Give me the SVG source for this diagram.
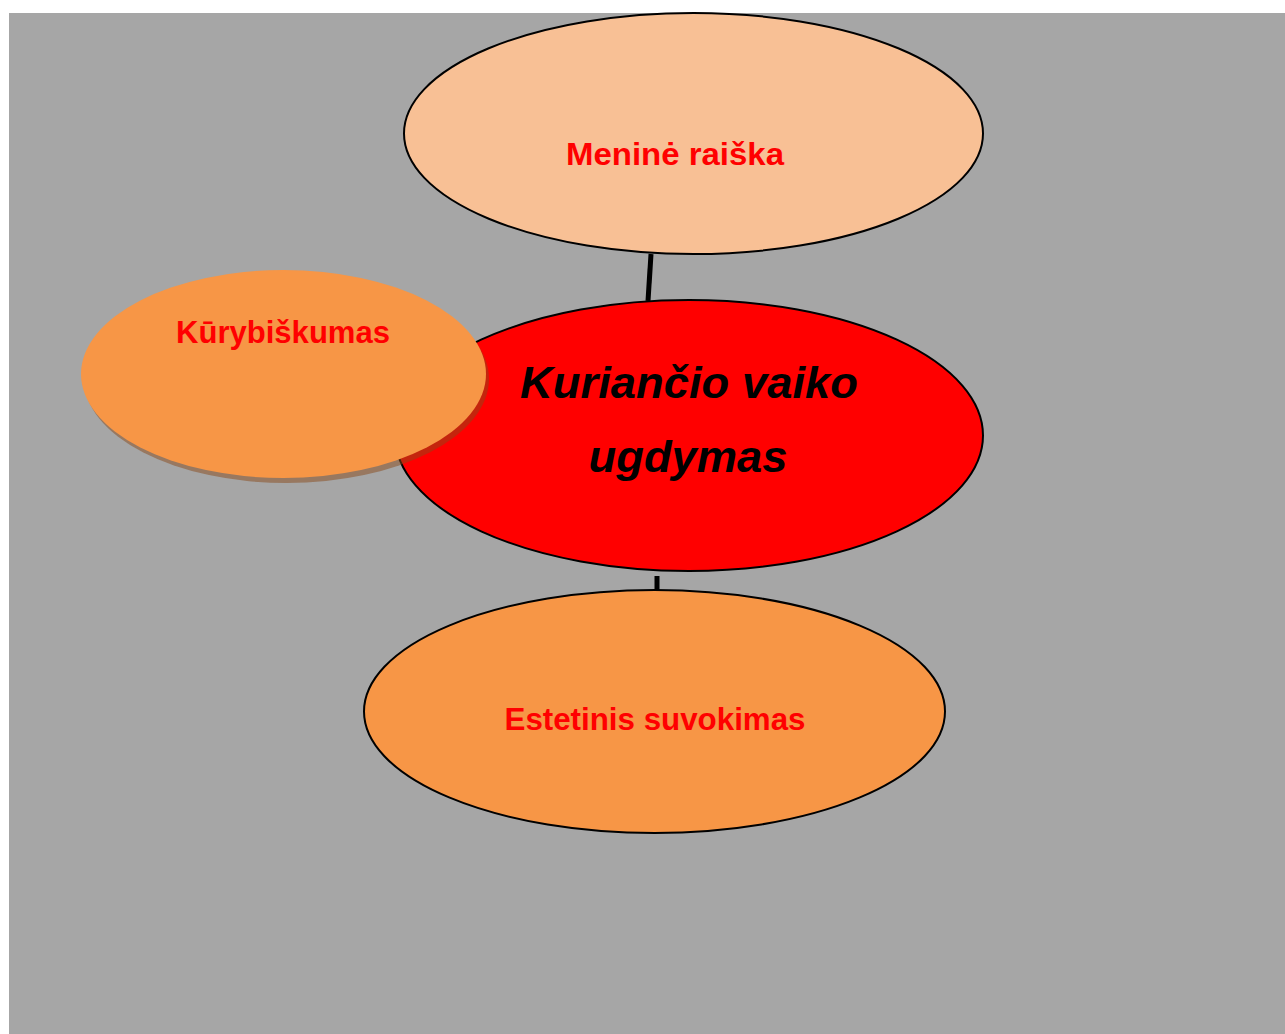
<svg xmlns="http://www.w3.org/2000/svg" width="1285" height="1034" viewBox="0 0 1285 1034">
<style>
.lbl{font-family:"Liberation Sans",Arial,sans-serif;font-weight:bold;fill:#ff0000;font-size:32px;text-anchor:middle}
.main{font-family:"Liberation Sans",Arial,sans-serif;font-weight:bold;font-style:italic;fill:#000;font-size:44px;text-anchor:middle}
.conn{stroke:#000;stroke-width:5;fill:none}
</style>
<rect x="0" y="0" width="1285" height="1034" fill="#ffffff"/>
<rect x="9" y="13" width="1276" height="1021" fill="#a6a6a6"/>
<g id="connectors">
<line class="conn" x1="651" y1="254" x2="648" y2="301"/>
<line class="conn" x1="657" y1="576" x2="657" y2="591"/>
</g>
<g id="menine">
<ellipse cx="693.5" cy="133.5" rx="289.5" ry="120.5" fill="#f8c095" stroke="#000" stroke-width="2"/>
<text class="lbl" x="675" y="165" textLength="218" lengthAdjust="spacingAndGlyphs">Meninė raiška</text>
</g>
<g id="center">
<ellipse cx="689" cy="435.5" rx="294" ry="135.5" fill="#ff0000" stroke="#000" stroke-width="2"/>
<text class="main" x="689" y="398" textLength="338" lengthAdjust="spacingAndGlyphs">Kuriančio vaiko</text>
<text class="main" x="688" y="472" textLength="199" lengthAdjust="spacingAndGlyphs">ugdymas</text>
</g>
<g id="kurybiskumas">
<ellipse cx="286.5" cy="379" rx="202.5" ry="104" fill="#8a4a1a" opacity="0.5"/>
<ellipse cx="283.5" cy="374" rx="202.5" ry="104" fill="#f79646"/>
<text class="lbl" x="283" y="343" textLength="214" lengthAdjust="spacingAndGlyphs">Kūrybiškumas</text>
</g>
<g id="estetinis">
<ellipse cx="654.5" cy="711.5" rx="290.5" ry="121.5" fill="#f79646" stroke="#000" stroke-width="2"/>
<text class="lbl" x="655" y="730" textLength="301" lengthAdjust="spacingAndGlyphs">Estetinis suvokimas</text>
</g>
</svg>
